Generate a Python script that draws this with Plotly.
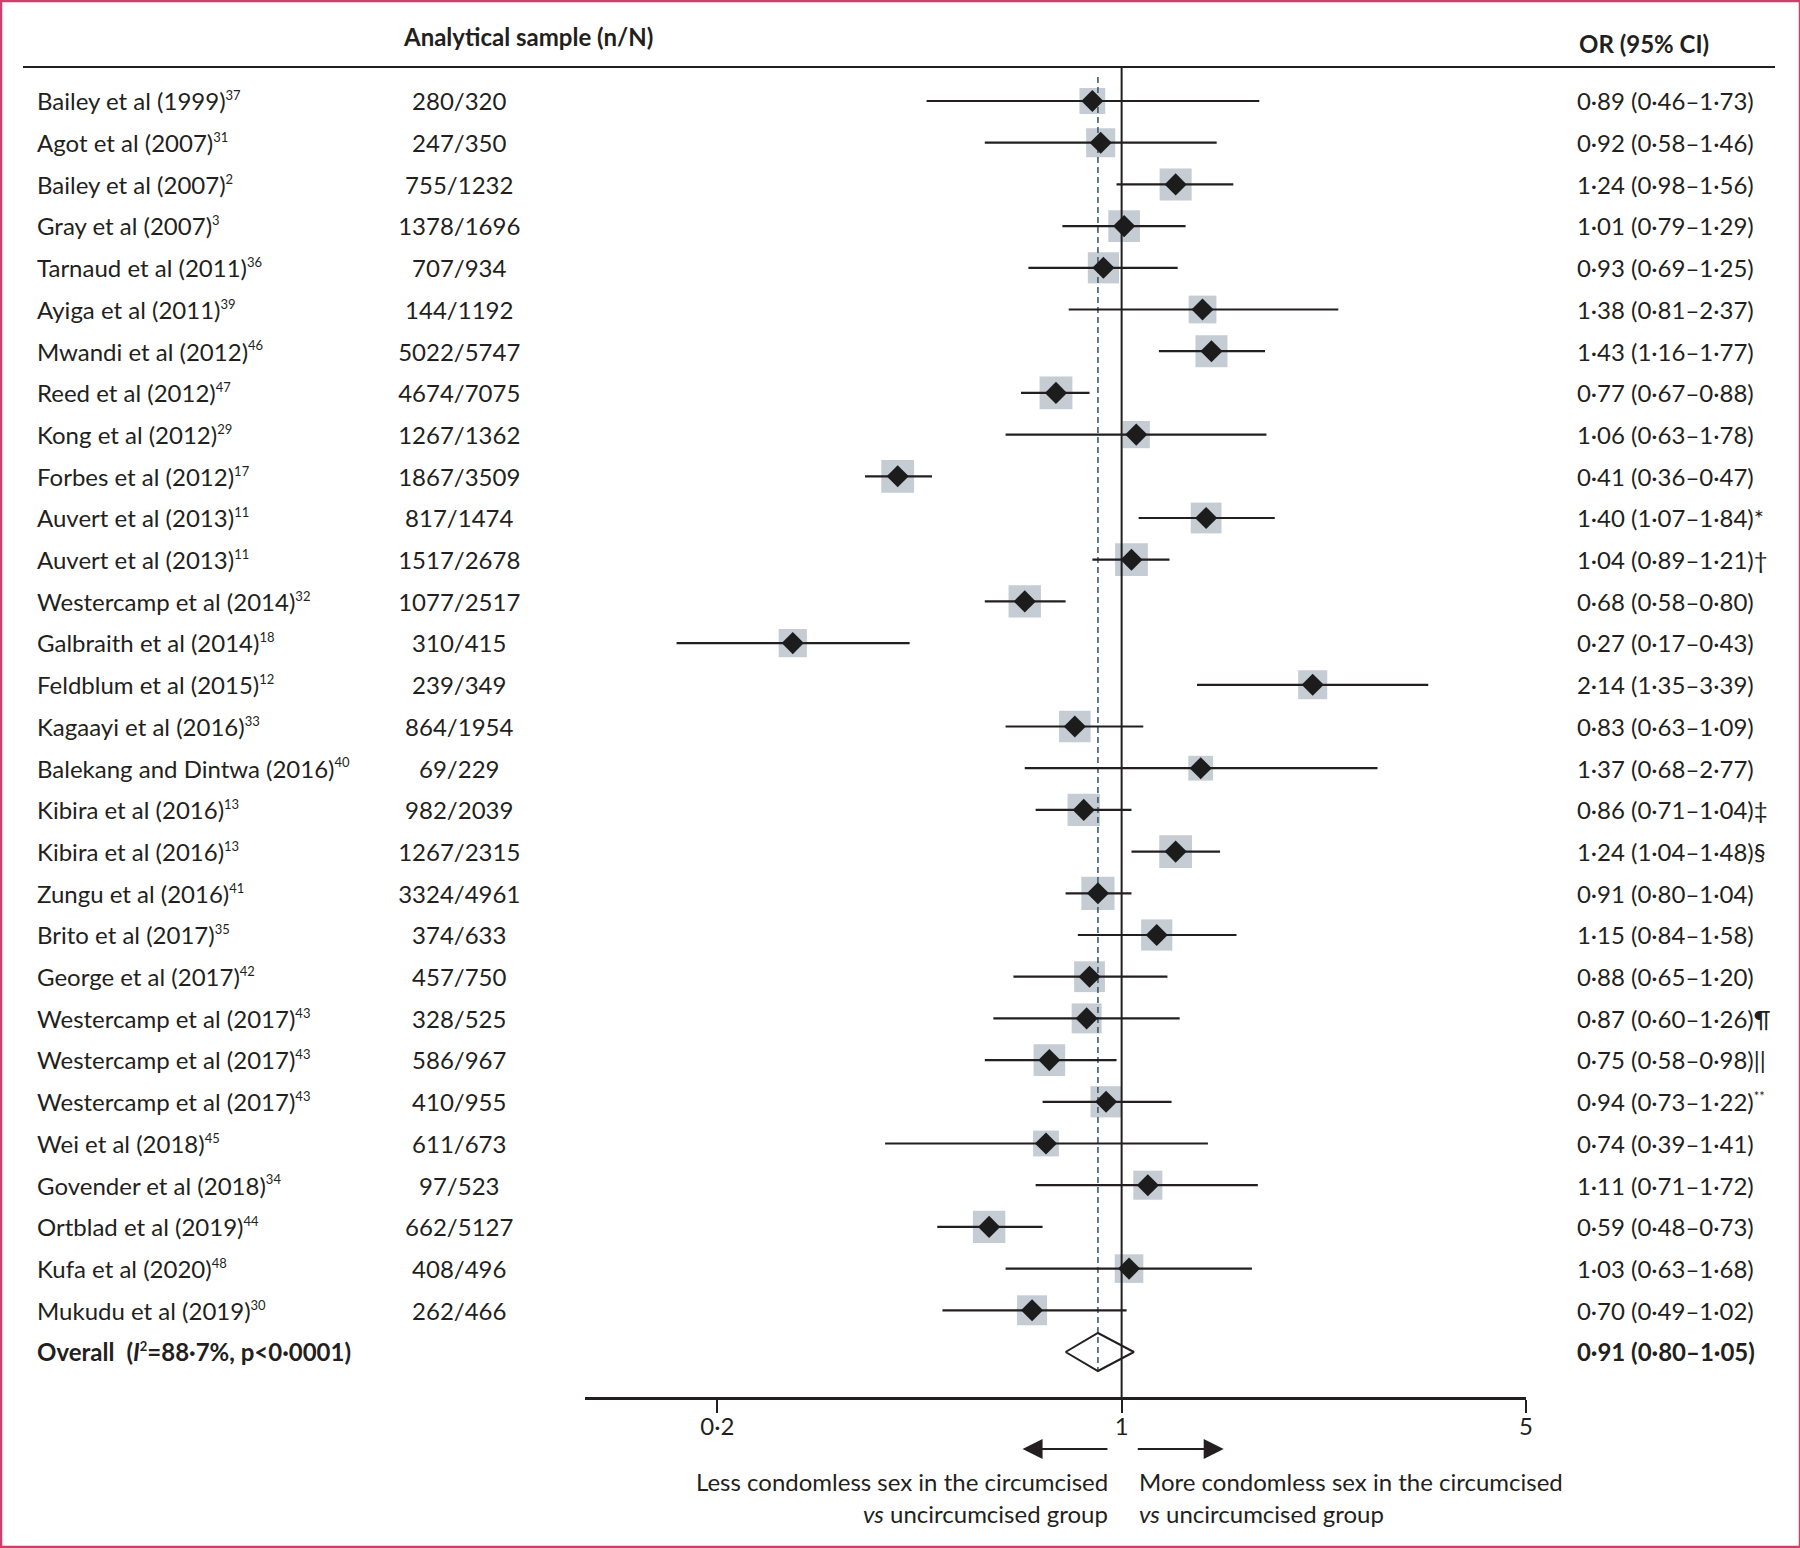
import math
import plotly.graph_objects as go

# ---------------- data ----------------
study_names = [
    "Bailey et al (1999)", "Agot et al (2007)", "Bailey et al (2007)", "Gray et al (2007)",
    "Tarnaud et al (2011)", "Ayiga et al (2011)", "Mwandi et al (2012)", "Reed et al (2012)",
    "Kong et al (2012)", "Forbes et al (2012)", "Auvert et al (2013)", "Auvert et al (2013)",
    "Westercamp et al (2014)", "Galbraith et al (2014)", "Feldblum et al (2015)", "Kagaayi et al (2016)",
    "Balekang and Dintwa (2016)", "Kibira et al (2016)", "Kibira et al (2016)", "Zungu et al (2016)",
    "Brito et al (2017)", "George et al (2017)", "Westercamp et al (2017)", "Westercamp et al (2017)",
    "Westercamp et al (2017)", "Wei et al (2018)", "Govender et al (2018)", "Ortblad et al (2019)",
    "Kufa et al (2020)", "Mukudu et al (2019)",
]
references = ["37", "31", "2", "3", "36", "39", "46", "47", "29", "17", "11", "11", "32", "18", "12", "33",
              "40", "13", "13", "41", "35", "42", "43", "43", "43", "45", "34", "44", "48", "30"]
samples = ["280/320", "247/350", "755/1232", "1378/1696", "707/934", "144/1192", "5022/5747", "4674/7075",
           "1267/1362", "1867/3509", "817/1474", "1517/2678", "1077/2517", "310/415", "239/349", "864/1954",
           "69/229", "982/2039", "1267/2315", "3324/4961", "374/633", "457/750", "328/525", "586/967",
           "410/955", "611/673", "97/523", "662/5127", "408/496", "262/466"]
odds_ratio = [0.89, 0.92, 1.24, 1.01, 0.93, 1.38, 1.43, 0.77, 1.06, 0.41, 1.40, 1.04, 0.68, 0.27, 2.14,
              0.83, 1.37, 0.86, 1.24, 0.91, 1.15, 0.88, 0.87, 0.75, 0.94, 0.74, 1.11, 0.59, 1.03, 0.70]
ci_low = [0.46, 0.58, 0.98, 0.79, 0.69, 0.81, 1.16, 0.67, 0.63, 0.36, 1.07, 0.89, 0.58, 0.17, 1.35,
          0.63, 0.68, 0.71, 1.04, 0.80, 0.84, 0.65, 0.60, 0.58, 0.73, 0.39, 0.71, 0.48, 0.63, 0.49]
ci_high = [1.73, 1.46, 1.56, 1.29, 1.25, 2.37, 1.77, 0.88, 1.78, 0.47, 1.84, 1.21, 0.80, 0.43, 3.39,
           1.09, 2.77, 1.04, 1.48, 1.04, 1.58, 1.20, 1.26, 0.98, 1.22, 1.41, 1.72, 0.73, 1.68, 1.02]
footnote_marks = ["", "", "", "", "", "", "", "", "", "", "*", "\u2020", "", "", "", "", "", "\u2021", "\u00a7",
                  "", "", "", "\u00b6", "||", "**", "", "", "", "", ""]
# estimated study weights (%)
weights = [2.6, 3.3, 4.0, 3.9, 3.8, 3.0, 4.0, 4.2, 2.9, 4.2, 3.7, 4.2, 4.1, 3.1, 3.3, 3.9, 2.4, 4.1, 4.2,
           4.3, 3.8, 3.7, 3.5, 3.9, 3.8, 2.6, 3.3, 4.1, 3.2, 3.5]
overall_i2 = "88\u00b77%"
overall_p = "p&lt;0\u00b70001"
overall_or, overall_low, overall_high = 0.91, 0.80, 1.05
tick_vals = [0.2, 1, 5]
tick_text = ["0\u00b72", "1", "5"]

# ---------------- styling ----------------
REF_W, H = 1800, 1548      # layout grid (reference pixels)
FIG_W = 1808               # rendered figure width
FONT = "Lato, Roboto, sans-serif"
TXT = "#231f20"
FS = 24
SUP = 13
BOX = "#adb7c1"
PINK = "#cf3f6b"

n = len(study_names)
rows = list(range(1, n + 1))
overall_row = n + 1
TEXT_DY = 0.08  # optical centring of text on the row

top_px, axis_px, row1_px, step_px = 67, 1397, 101, 41.7
y_top = 1 - (row1_px - top_px) / step_px
y_bot = overall_row + (axis_px - (row1_px + n * step_px)) / step_px
x_left_px, x_right_px, x_one_px = 585, 1525, 1121


def px(x):
    return x / REF_W


def py(y):
    return 1 - y / H


def fmt(v):
    return f"{v:.2f}".replace(".", "\u00b7")


def sup(s):
    return f"<sup><span style='font-size:{SUP}px'>{s}</span></sup>" if s else ""


fig = go.Figure()

# weight boxes
fig.add_trace(go.Scatter(
    x=odds_ratio, y=rows, mode="markers",
    marker=dict(symbol="square", size=[16 * math.sqrt(w) for w in weights], color=BOX, line=dict(width=0)),
    hoverinfo="skip", showlegend=False))

# line of no effect
fig.add_trace(go.Scatter(x=[1, 1], y=[y_top - 0.05, y_bot], mode="lines",
                         line=dict(color=TXT, width=2), hoverinfo="skip", showlegend=False))
# overall estimate dashed line
half_h = 19 / step_px
fig.add_trace(go.Scatter(x=[overall_or, overall_or], y=[y_top + 0.24, overall_row + half_h], mode="lines",
                         line=dict(color="#3f5b6e", width=1.6, dash="6px,4px"),
                         hoverinfo="skip", showlegend=False))

# CI lines
cx, cy = [], []
for lo, hi, r in zip(ci_low, ci_high, rows):
    cx += [lo, hi, None]
    cy += [r, r, None]
fig.add_trace(go.Scatter(x=cx, y=cy, mode="lines", line=dict(color=TXT, width=2.2),
                         hoverinfo="skip", showlegend=False))

# point estimates
fig.add_trace(go.Scatter(x=odds_ratio, y=rows, mode="markers",
                         marker=dict(symbol="diamond", size=17, color="#1c1c1c", line=dict(width=0)),
                         hoverinfo="skip", showlegend=False))

# overall diamond
fig.add_trace(go.Scatter(
    x=[overall_low, overall_or, overall_high, overall_or, overall_low],
    y=[overall_row, overall_row - half_h, overall_row, overall_row + half_h, overall_row],
    mode="lines", line=dict(color=TXT, width=2),
    hoverinfo="skip", showlegend=False))

# table columns (on a pixel-width helper axis)
text_rows = [r + TEXT_DY for r in rows]
text_overall = overall_row + TEXT_DY
name_text = [f"{s}{sup(r)}" for s, r in zip(study_names, references)]
overall_label = f"<b>Overall\u2002(<i>I</i>{sup('2')}={overall_i2}, {overall_p})</b>"
fig.add_trace(go.Scatter(x=[37] * (n + 1), y=text_rows + [text_overall], xaxis="x2", mode="text",
                         text=name_text + [overall_label], textposition="middle right",
                         textfont=dict(family=FONT, size=FS, color=TXT),
                         hoverinfo="skip", showlegend=False))
fig.add_trace(go.Scatter(x=[459] * n, y=text_rows, xaxis="x2", mode="text",
                         text=samples, textposition="middle center",
                         textfont=dict(family=FONT, size=FS, color=TXT),
                         hoverinfo="skip", showlegend=False))


def mark(m):
    return sup(m) if m == "**" else m


or_text = [f"{fmt(o)} ({fmt(l)}\u2013{fmt(h)}){mark(m)}"
           for o, l, h, m in zip(odds_ratio, ci_low, ci_high, footnote_marks)]
or_text.append(f"<b>{fmt(overall_or)} ({fmt(overall_low)}\u2013{fmt(overall_high)})</b>")
fig.add_trace(go.Scatter(x=[1576] * (n + 1), y=text_rows + [text_overall], xaxis="x2", mode="text",
                         text=or_text, textposition="middle right",
                         textfont=dict(family=FONT, size=FS, color=TXT),
                         hoverinfo="skip", showlegend=False))

x_hi = math.log10(tick_vals[-1])
x_lo = x_hi - (x_right_px - x_left_px) / ((x_right_px - x_one_px) / x_hi)

txt_font = dict(family=FONT, size=FS, color=TXT)
arrow_scale = FIG_W / REF_W
annotations = [
    dict(text="<b>Analytical sample (n/N)</b>", x=px(528), y=py(36), xref="paper", yref="paper",
         xanchor="center", yanchor="middle", showarrow=False, font=txt_font),
    dict(text="<b>OR (95% CI)</b>", x=px(1576), y=py(44), xref="paper", yref="paper",
         xanchor="left", yanchor="middle", showarrow=False, font=txt_font),
    dict(text="Less condomless sex in the circumcised", x=px(1109), y=py(1481), xref="paper", yref="paper",
         xanchor="right", yanchor="middle", showarrow=False, font=txt_font),
    dict(text="<i>vs</i> uncircumcised group", x=px(1109), y=py(1513), xref="paper", yref="paper",
         xanchor="right", yanchor="middle", showarrow=False, font=txt_font),
    dict(text="More condomless sex in the circumcised", x=px(1136), y=py(1481), xref="paper", yref="paper",
         xanchor="left", yanchor="middle", showarrow=False, font=txt_font),
    dict(text="<i>vs</i> uncircumcised group", x=px(1136), y=py(1513), xref="paper", yref="paper",
         xanchor="left", yanchor="middle", showarrow=False, font=txt_font),
    dict(text="", x=px(1022), y=py(1449), xref="paper", yref="paper", showarrow=True,
         ax=86 * arrow_scale, ay=0, arrowhead=2, arrowsize=2, arrowwidth=2, arrowcolor=TXT),
    dict(text="", x=px(1223), y=py(1449), xref="paper", yref="paper", showarrow=True,
         ax=-87 * arrow_scale, ay=0, arrowhead=2, arrowsize=2, arrowwidth=2, arrowcolor=TXT),
]

shapes = [
    dict(type="line", xref="paper", yref="paper", x0=px(23), x1=px(1774), y0=py(top_px), y1=py(top_px),
         line=dict(color=TXT, width=2)),
    dict(type="rect", xref="paper", yref="paper", x0=px(1), x1=px(REF_W - 1), y0=py(H - 1), y1=py(1),
         line=dict(color=PINK, width=2.5), fillcolor="rgba(0,0,0,0)"),
]

fig.update_layout(
    width=FIG_W, height=H, margin=dict(l=0, r=0, t=0, b=0, pad=0),
    paper_bgcolor="white", plot_bgcolor="rgba(0,0,0,0)",
    font=dict(family=FONT, size=FS, color=TXT),
    xaxis=dict(type="log", domain=[px(x_left_px), px(x_right_px)], range=[x_lo, x_hi],
               tickvals=tick_vals, ticktext=tick_text, ticks="outside", ticklen=13, tickwidth=2,
               tickcolor=TXT, showline=True, linecolor=TXT, linewidth=2.5, showgrid=False, zeroline=False,
               ticklabelstandoff=-7,
               tickfont=dict(family=FONT, size=FS, color=TXT), anchor="y", fixedrange=True),
    xaxis2=dict(domain=[0, 1], range=[0, REF_W], visible=False, anchor="y", fixedrange=True),
    yaxis=dict(domain=[py(axis_px), py(top_px)], range=[y_bot, y_top], visible=False, fixedrange=True),
    annotations=annotations, shapes=shapes, showlegend=False,
)

fig.write_html(
    "out.html",
    config={"displayModeBar": False},
    post_script=("document.body.style.margin='0px';document.body.style.overflow='hidden';"
                 "document.documentElement.style.overflow='hidden';"),
)
